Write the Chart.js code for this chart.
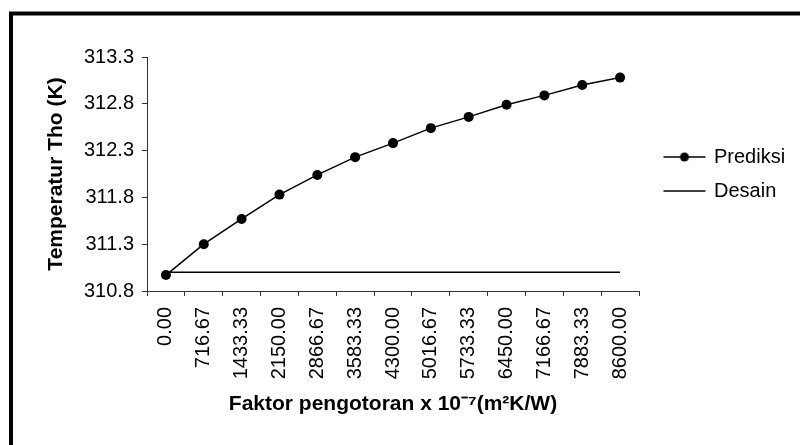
<!DOCTYPE html>
<html>
<head>
<meta charset="utf-8">
<script src="https://cdn.jsdelivr.net/npm/chart.js@4.4.1/dist/chart.umd.min.js"></script>
<style>
html,body{margin:0;padding:0;background:#fff;}
canvas{display:block;}
</style>
</head>
<body>
<canvas id="c" width="800" height="445" style="width:800px;height:445px"></canvas>
<script>
// ---- data ----
const categories = ['0.00','716.67','1433.33','2150.00','2866.67','3583.33','4300.00','5016.67','5733.33','6450.00','7166.67','7883.33','8600.00'];
const prediksi = [310.97,311.30,311.57,311.83,312.04,312.23,312.38,312.54,312.66,312.79,312.89,313.00,313.08];
const desain = [311.0,311.0,311.0,311.0,311.0,311.0,311.0,311.0,311.0,311.0,311.0,311.0,311.0];
const yTicks = [310.8,311.3,311.8,312.3,312.8,313.3];
const seriesNames = ['Prediksi','Desain'];
const xTitle = 'Faktor pengotoran x 10\u207B\u2077(m\u00B2K/W)';
const yTitle = 'Temperatur Tho (K)';

// ---- style / layout ----
const FONT = '"Liberation Sans", Arial, sans-serif';
const TICK_FS = 20;
const LEG_FS = 20, LEG_PAD = 14, LEG_BOX = 51;
const PLOT_LEFT = 147, PLOT_RIGHT = 639, PLOT_TOP = 57, PLOT_BOTTOM = 291;
const PAD_LEFT = 14;

Chart.defaults.font.family = FONT;
Chart.defaults.color = '#000';

function makeIcon(withDot){
  const cv = document.createElement('canvas');
  cv.width = 56; cv.height = 12;
  const g = cv.getContext('2d');
  g.strokeStyle = '#000'; g.lineWidth = 1.5;
  g.beginPath(); g.moveTo(13, 6); g.lineTo(55, 6); g.stroke();
  if (withDot){ g.fillStyle = '#000'; g.beginPath(); g.arc(34, 6, 4.5, 0, Math.PI*2); g.fill(); }
  return cv;
}
const icons = [makeIcon(true), makeIcon(false)];

const mctx = document.createElement('canvas').getContext('2d');
mctx.font = 'normal ' + LEG_FS + 'px ' + FONT;
const tw = Math.max(...seriesNames.map(n => mctx.measureText(n).width));
const legendW = LEG_PAD + LEG_BOX + LEG_FS/2 + tw + 10;
const padRight = 800 - PLOT_RIGHT - legendW;

const framePlugin = {
  id: 'frame',
  beforeDraw(chart){
    const c = chart.ctx;
    c.save();
    c.fillStyle = '#fff';
    c.fillRect(0, 0, chart.width, chart.height);
    c.strokeStyle = '#000';
    c.lineWidth = 4;
    c.strokeRect(11, 13.5, 820, 460);
    c.restore();
  }
};

new Chart(document.getElementById('c'), {
  type: 'line',
  data: {
    labels: categories,
    datasets: [
      { label: seriesNames[0], data: prediksi, borderColor: '#000', borderWidth: 1.5, tension: 0,
        pointRadius: 5, pointHoverRadius: 5, pointBackgroundColor: '#000', pointBorderColor: '#000', pointBorderWidth: 0 },
      { label: seriesNames[1], data: desain, borderColor: '#000', borderWidth: 1.5, tension: 0,
        pointRadius: 0, pointHoverRadius: 0 }
    ]
  },
  options: {
    responsive: false,
    animation: false,
    devicePixelRatio: 1,
    layout: { padding: { top: PLOT_TOP, left: PAD_LEFT, right: padRight, bottom: 0 } },
    plugins: {
      tooltip: { enabled: false },
      legend: {
        position: 'right', align: 'center', fullSize: false,
        labels: {
          usePointStyle: true, pointStyleWidth: LEG_BOX, padding: LEG_PAD,
          font: { size: LEG_FS }, color: '#000',
          generateLabels(chart){
            return chart.data.datasets.map((ds, i) => ({
              text: ds.label, pointStyle: icons[i], datasetIndex: i, hidden: false,
              lineWidth: 0, strokeStyle: 'rgba(0,0,0,0)', fillStyle: 'rgba(0,0,0,0)', fontColor: '#000'
            }));
          }
        }
      }
    },
    scales: {
      x: {
        type: 'category', offset: true,
        grid: { offset: true, drawOnChartArea: false, drawTicks: true, tickLength: 5, color: '#333', lineWidth: 1 },
        border: { display: true, color: '#333', width: 1 },
        ticks: { autoSkip: false, maxRotation: 90, minRotation: 90, padding: 11, font: { size: TICK_FS }, color: '#000' },
        title: { display: true, text: xTitle, color: '#000', font: { size: 21, weight: 'bold' }, padding: { top: 0, bottom: 28 } },
        afterFit(s){ s.height = 445 - PLOT_BOTTOM; }
      },
      y: {
        min: yTicks[0], max: yTicks[yTicks.length-1],
        afterBuildTicks(s){ s.ticks = yTicks.map(v => ({ value: v })); },
        grid: { drawOnChartArea: false, drawTicks: true, tickLength: 5, color: '#333', lineWidth: 1 },
        border: { display: true, color: '#333', width: 1 },
        ticks: { padding: 8, font: { size: TICK_FS }, color: '#000', callback: v => Number(v).toFixed(1) },
        title: { display: true, text: yTitle, color: '#000', font: { size: 21, weight: 'bold' }, padding: { top: 30, bottom: 0 } },
        afterFit(s){ s.width = PLOT_LEFT - PAD_LEFT; }
      }
    }
  },
  plugins: [framePlugin]
});
</script>
</body>
</html>
